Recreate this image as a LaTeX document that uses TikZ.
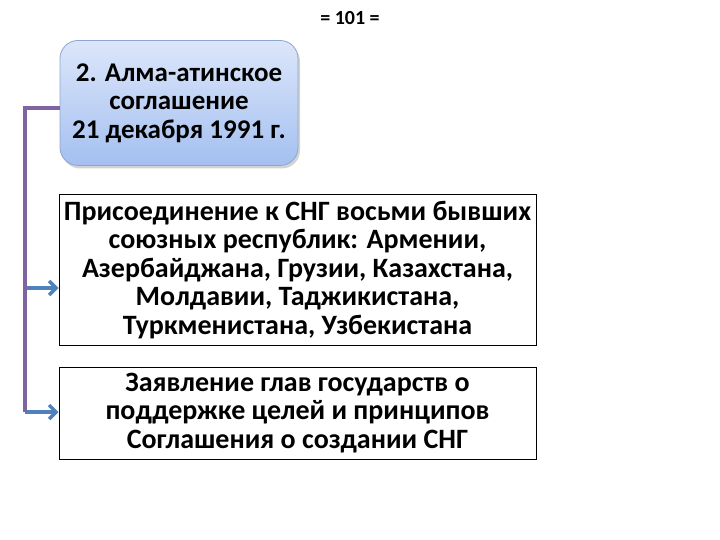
\documentclass[tikz,border=0pt]{standalone}
\usepackage{fontspec}
\setmainfont{Carlito}
\usetikzlibrary{arrows.meta,shadows}
\definecolor{conpurple}{HTML}{8064A2}
\definecolor{conblue}{HTML}{4F81BD}
\definecolor{topfill}{HTML}{DCE6FA}
\definecolor{botfill}{HTML}{A4C0F0}
\definecolor{topedge}{HTML}{8EA6CF}
\tikzset{
  every node/.style={font=\bfseries},
  topbox/.style={draw=topedge, line width=0.8pt, rounded corners=18pt, top color=topfill, bottom color=botfill,
    minimum width=238pt, minimum height=125pt, align=center, font=\bfseries\fontsize{27}{28.5}\selectfont,
    drop shadow={shadow xshift=2pt, shadow yshift=-3pt, opacity=0.35}},
  plainbox/.style={draw=black, line width=1pt, fill=white, minimum width=477pt, align=center,
    font=\bfseries\fontsize{28}{28.5}\selectfont},
  conline/.style={draw=conpurple, line width=3.5pt},
  conarrow/.style={draw=conblue, line width=3.5pt, -{Straight Barb[length=7pt,width=14pt]}}
}
\begin{document}
\begin{tikzpicture}[x=1pt,y=-1pt]
\useasboundingbox (0,0) rectangle (720,540);
\node[font=\bfseries\fontsize{20}{22}\selectfont] (title) at (350,18) {= 101 =};
\node[topbox] (top) at (179,103) {2. Алма-атинское\\соглашение\\21 декабря 1991 г.};
\node[plainbox, minimum height=150pt] (b1) at (297.5,270) {Присоединение к СНГ восьми бывших\\союзных республик: Армении,\\Азербайджана, Грузии, Казахстана,\\Молдавии, Таджикистана,\\Туркменистана, Узбекистана};
\node[plainbox, minimum height=92pt] (b2) at (297.5,413) {Заявление глав государств о\\поддержке целей и принципов\\Соглашения о создании СНГ};
\coordinate (c0) at (25,108);
\coordinate (c1) at (25,288);
\coordinate (c2) at (25,412);
\draw[conarrow] (c1) -- (c1 -| b1.west);
\draw[conarrow] (c2) -- (c2 -| b2.west);
\draw[conline] (top.west |- c0) -- (c0) -- (c2);
\end{tikzpicture}
\end{document}
